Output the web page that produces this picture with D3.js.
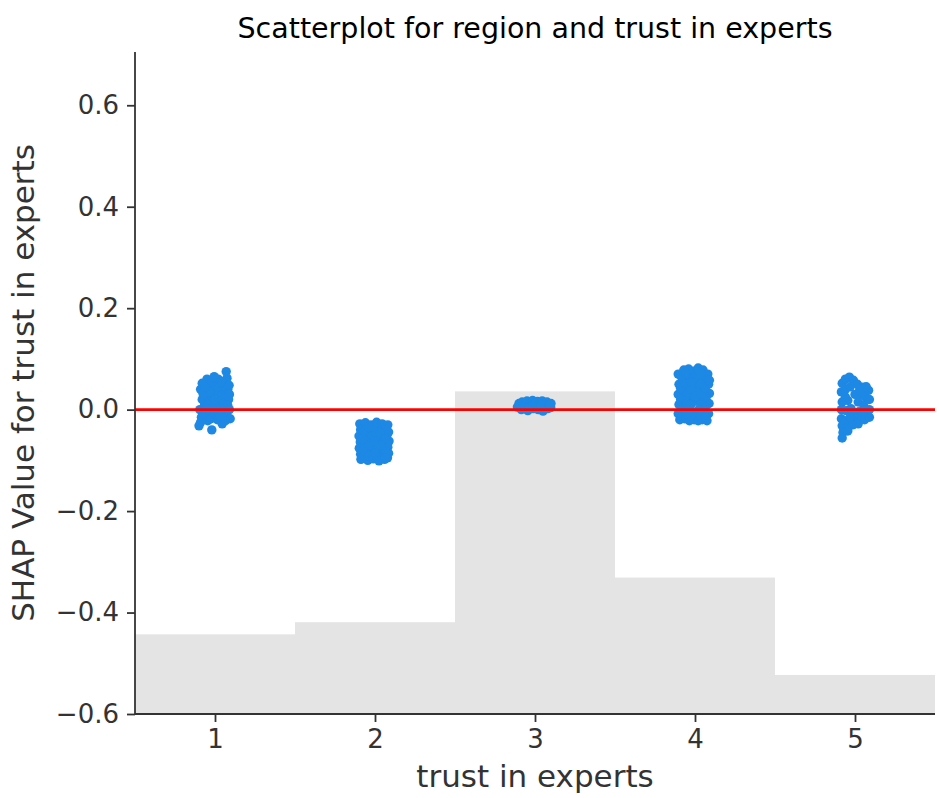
<!DOCTYPE html>
<html>
<head>
<meta charset="utf-8">
<script src="https://cdn.jsdelivr.net/npm/d3@7"></script>
<style>
  body { margin: 0; background: #fff; }
  text { font-family: "DejaVu Sans", sans-serif; }
  .axis path, .axis line { stroke: #333; stroke-width: 1.8; }
  .axis text { fill: #333; font-size: 26px; }
</style>
</head>
<body>
<div id="chart"></div>
<script>
// kategori sumbu x dan histogram di belakang (puncak bar dalam satuan SHAP)
const categories = [1, 2, 3, 4, 5];
const histTop = [-0.443, -0.419, 0.036, -0.331, -0.523];
const yTicks = [-0.6, -0.4, -0.2, 0.0, 0.2, 0.4, 0.6];

// titik per kategori: [jitter x, nilai SHAP]
const pts1 = [
  [-0.09, 0.040], [-0.08, 0.020], [-0.095, 0.000], [-0.085, -0.015], [-0.10, -0.032],
  [-0.07, 0.050], [-0.06, 0.030], [-0.065, 0.010], [-0.055, -0.010], [-0.05, 0.060],
  [-0.04, 0.045], [-0.035, 0.015], [-0.03, -0.005], [-0.045, -0.022], [-0.02, 0.055],
  [-0.015, 0.025], [-0.01, 0.005], [-0.025, -0.018], [-0.02, -0.040], [0.0, 0.050],
  [0.005, 0.035], [0.01, 0.012], [0.0, -0.008], [0.015, -0.020], [0.02, 0.060],
  [0.025, 0.040], [0.03, 0.020], [0.035, 0.000], [0.04, -0.015], [0.045, -0.028],
  [0.05, 0.050], [0.055, 0.030], [0.06, 0.008], [0.065, -0.010], [0.07, 0.075],
  [0.075, 0.062], [0.08, 0.040], [0.085, 0.020], [0.09, 0.000], [0.095, -0.018],
  [0.088, 0.048], [0.07, 0.028], [-0.075, 0.032], [-0.05, 0.002], [0.012, 0.045],
  [-0.005, 0.065], [0.05, 0.012], [0.02, -0.005], [-0.08, 0.052], [0.09, 0.030],
  [-0.03, 0.035], [0.04, 0.055], [-0.09, -0.025], [0.065, -0.022], [-0.06, 0.045],
  [0.0, 0.020], [0.03, -0.012], [0.08, 0.008]
];
const pts2 = [
  [-0.095, -0.028], [-0.06, -0.026], [-0.025, -0.030], [0.01, -0.025], [0.045, -0.028], [0.08, -0.030],
  [-0.09, -0.040], [-0.055, -0.038], [-0.02, -0.042], [0.015, -0.036], [0.05, -0.040], [0.085, -0.044],
  [-0.1, -0.052], [-0.065, -0.050], [-0.03, -0.055], [0.005, -0.048], [0.04, -0.053], [0.075, -0.050],
  [-0.092, -0.064], [-0.058, -0.062], [-0.022, -0.066], [0.012, -0.060], [0.048, -0.065], [0.088, -0.062],
  [-0.098, -0.076], [-0.062, -0.074], [-0.028, -0.078], [0.008, -0.072], [0.042, -0.077], [0.08, -0.074],
  [-0.09, -0.088], [-0.055, -0.086], [-0.018, -0.090], [0.018, -0.085], [0.052, -0.089], [0.085, -0.086],
  [-0.088, -0.098], [-0.045, -0.100], [-0.01, -0.097], [0.025, -0.101], [0.06, -0.098], [0.078, -0.095],
  [-0.075, -0.045], [-0.04, -0.070], [0.03, -0.058], [0.065, -0.082], [-0.01, -0.034], [0.07, -0.040],
  [-0.075, -0.058], [-0.04, -0.035], [0.03, -0.045], [0.065, -0.058], [-0.075, -0.082], [-0.04, -0.092],
  [0.0, -0.085], [0.035, -0.070], [0.065, -0.095], [-0.005, -0.062]
];
const pts3 = [
  [-0.11, 0.005], [-0.10, 0.012], [-0.085, 0.000], [-0.08, 0.015], [-0.065, 0.008],
  [-0.05, 0.017], [-0.045, -0.002], [-0.03, 0.010], [-0.015, 0.018], [-0.01, 0.002],
  [0.0, 0.012], [0.015, 0.016], [0.02, 0.000], [0.03, 0.008], [0.045, 0.017],
  [0.05, -0.003], [0.06, 0.010], [0.075, 0.015], [0.08, 0.002], [0.09, 0.009],
  [0.098, 0.004], [0.10, 0.012], [-0.06, 0.004], [0.035, 0.004], [-0.02, 0.006]
];
const pts4 = [
  [-0.105, 0.070], [-0.1, 0.050], [-0.105, 0.030], [-0.1, 0.010], [-0.105, -0.008], [-0.095, -0.020],
  [-0.07, 0.078], [-0.075, 0.058], [-0.068, 0.040], [-0.072, 0.020], [-0.07, 0.000], [-0.065, -0.018],
  [-0.04, 0.080], [-0.045, 0.062], [-0.038, 0.045], [-0.042, 0.025], [-0.04, 0.005], [-0.035, -0.022],
  [-0.01, 0.076], [-0.012, 0.055], [-0.008, 0.035], [-0.015, 0.015], [-0.01, -0.005], [-0.005, -0.020],
  [0.02, 0.082], [0.018, 0.060], [0.022, 0.040], [0.02, 0.020], [0.025, 0.000], [0.02, -0.022],
  [0.05, 0.078], [0.048, 0.058], [0.052, 0.038], [0.05, 0.018], [0.055, -0.004], [0.045, -0.020],
  [0.08, 0.070], [0.085, 0.050], [0.09, 0.032], [0.088, 0.012], [0.085, -0.008], [0.075, -0.022],
  [-0.085, 0.065], [-0.055, 0.032], [-0.025, 0.068], [0.005, 0.045], [0.035, 0.010], [0.065, 0.062],
  [-0.085, 0.000], [-0.025, 0.010], [0.035, 0.050], [0.07, 0.025], [-0.055, 0.070], [0.005, -0.012],
  [-0.09, 0.042], [-0.055, 0.050], [-0.025, 0.040], [0.0, 0.025], [0.035, 0.030], [0.065, 0.040],
  [-0.09, 0.020], [-0.055, 0.012], [-0.025, -0.012], [0.035, -0.012], [0.065, 0.005], [-0.085, -0.012],
  [0.0, 0.065], [0.035, 0.070], [-0.055, -0.008], [0.065, -0.015], [0.09, 0.058], [-0.025, 0.055]
];
const pts5 = [
  [-0.08, 0.052], [-0.06, 0.060], [-0.035, 0.064], [-0.01, 0.058], [0.015, 0.050], [0.05, 0.044],
  [0.085, 0.038], [-0.085, 0.035], [-0.06, 0.040], [-0.03, 0.045], [0.04, 0.030], [0.065, 0.025],
  [0.09, 0.020], [-0.08, 0.015], [-0.045, 0.018], [0.02, 0.015], [0.055, 0.008], [0.09, 0.000],
  [-0.085, 0.000], [-0.055, -0.002], [-0.025, 0.002], [0.025, -0.004], [0.07, -0.008], [0.09, -0.015],
  [-0.085, -0.018], [-0.055, -0.022], [0.01, -0.020], [0.045, -0.012], [-0.08, -0.032], [-0.05, -0.035],
  [-0.015, -0.030], [0.02, -0.028], [-0.075, -0.045], [-0.045, -0.042], [-0.08, -0.056], [0.0, 0.030],
  [-0.015, -0.005], [0.03, 0.040], [0.07, 0.045], [-0.06, 0.025], [0.06, -0.020], [-0.03, -0.015]
];
const series = [pts1, pts2, pts3, pts4, pts5];

const W = 939, Ht = 798;
const m = { t: 52, r: 4, b: 84, l: 135 };
const svg = d3.select("#chart").append("svg").attr("width", W).attr("height", Ht);

const x = d3.scaleLinear().domain([0.5, 5.5]).range([m.l, W - m.r]);
const y = d3.scaleLinear().domain([-0.6, 0.705]).range([Ht - m.b, m.t]);

// histogram latar
svg.append("g").selectAll("rect").data(categories).join("rect")
  .attr("x", d => x(d - 0.5)).attr("width", d => x(d + 0.5) - x(d - 0.5))
  .attr("y", (d, i) => y(histTop[i])).attr("height", (d, i) => y(-0.6) - y(histTop[i]))
  .attr("fill", "#e4e4e4");

// titik
const flat = [];
series.forEach((s, i) => s.forEach(p => flat.push({ x: categories[i] + p[0], v: p[1] })));
svg.append("g").selectAll("circle").data(flat).join("circle")
  .attr("cx", d => x(d.x)).attr("cy", d => y(d.v)).attr("r", 4.7)
  .attr("fill", "#1E88E5");

// garis nol
svg.append("line").attr("x1", x(0.5)).attr("x2", x(5.5)).attr("y1", y(0)).attr("y2", y(0))
  .attr("stroke", "#ff0000").attr("stroke-width", 2.6);

// sumbu
const fmt = d => d3.format(".1f")(d).replace("-", "\u2212");
svg.append("g").attr("class", "axis").attr("transform", `translate(0,${Ht - m.b})`)
  .call(d3.axisBottom(x).tickValues(categories).tickSize(8).tickPadding(8).tickFormat(d3.format("d")))
  .call(g => g.select(".domain").attr("d", `M${m.l},0H${W - m.r}`));
svg.append("g").attr("class", "axis").attr("transform", `translate(${m.l},0)`)
  .call(d3.axisLeft(y).tickValues(yTicks).tickSize(8).tickPadding(8).tickFormat(fmt))
  .call(g => g.select(".domain").attr("d", `M0,${m.t}V${Ht - m.b}`));

// judul dan label
svg.append("text").attr("x", (m.l + W - m.r) / 2).attr("y", 38).attr("text-anchor", "middle")
  .attr("font-size", 28.5).attr("fill", "#000").text("Scatterplot for region and trust in experts");
svg.append("text").attr("x", (m.l + W - m.r) / 2).attr("y", 787).attr("text-anchor", "middle")
  .attr("font-size", 31).attr("fill", "#333").text("trust in experts");
svg.append("text").attr("transform", `translate(34,${(m.t + Ht - m.b) / 2}) rotate(-90)`)
  .attr("text-anchor", "middle").attr("font-size", 31).attr("fill", "#333")
  .text("SHAP Value for trust in experts");
</script>
</body>
</html>
